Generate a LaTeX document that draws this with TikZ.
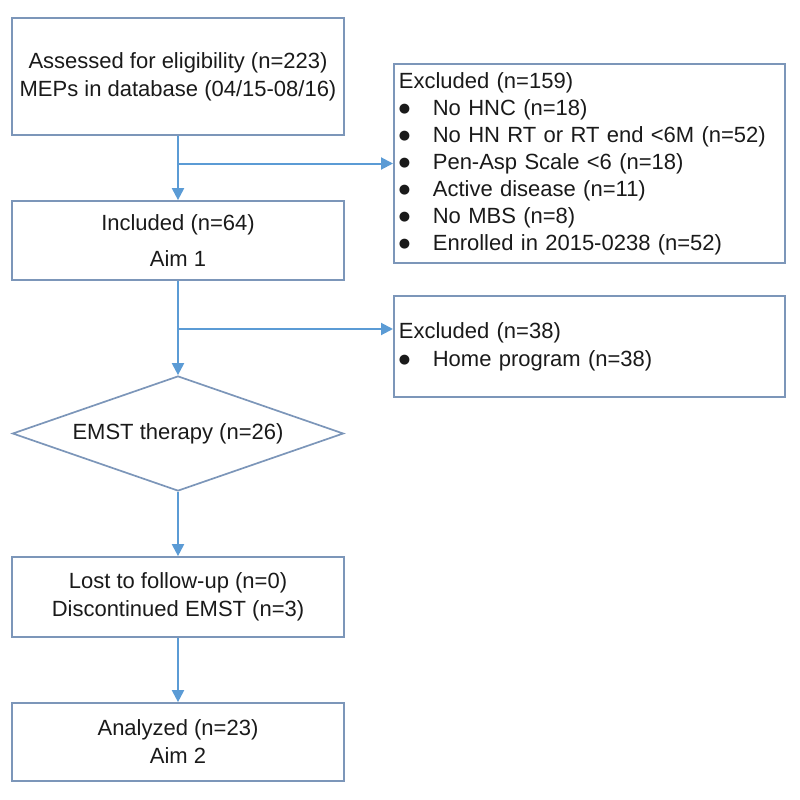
\documentclass[tikz,border=0pt]{standalone}
\usepackage{fontspec}
\setmainfont{Liberation Sans}
\newfontfamily\dejavu{DejaVu Sans}
\usetikzlibrary{shapes.geometric,arrows.meta}
\definecolor{boxc}{HTML}{7C96B9}
\definecolor{linec}{HTML}{5B9BD5}
\definecolor{txt}{HTML}{1A1A1A}
\newcommand{\bul}{\makebox[34pt][l]{\raisebox{2.5pt}{\dejavu\fontsize{13}{13}\selectfont ●}}}
\begin{document}
\begin{tikzpicture}[x=1pt,y=-1pt,
  every node/.style={font=\fontsize{22}{28}\selectfont, text=txt},
  box/.style={draw=boxc, line width=1.7pt, rectangle, inner sep=0pt, align=center},
  exbox/.style={draw=boxc, line width=1.7pt, rectangle, inner xsep=5pt, inner ysep=0pt, align=left, anchor=west},
  dia/.style={draw=boxc, line width=1.7pt, diamond, inner sep=0pt, aspect=2.88, minimum width=331pt, minimum height=115pt},
  conn/.style={draw=linec, line width=2pt},
  arr/.style={conn, -{Triangle[length=12pt,width=12pt]}}
]
\useasboundingbox (0,0) rectangle (800,800);
\node[box, minimum width=332pt, minimum height=117pt] (b1) at (178,76.5)
  {Assessed for eligibility (n=223)\\MEPs in database (04/15-08/16)};
\node[box, minimum width=332pt, minimum height=79pt, font=\fontsize{22}{36}\selectfont] (inc) at (178,240.5)
  {Included (n=64)\\Aim 1};
\node[exbox, text width=381pt, minimum height=199pt, font=\fontsize{22}{27}\selectfont] (ex1) at (393,163.5)
  {Excluded (n=159)\\\bul No HNC (n=18)\\\bul No HN RT or RT end <6M (n=52)\\\bul Pen-Asp Scale <6 (n=18)\\\bul Active disease (n=11)\\\bul No MBS (n=8)\\\bul Enrolled in 2015-0238 (n=52)};
\node[exbox, text width=381pt, minimum height=101pt] (ex2) at (393,346.5)
  {Excluded (n=38)\\\bul Home program (n=38)};
\node[dia] (emst) at (178,433.5) {EMST therapy (n=26)};
\node[box, minimum width=332pt, minimum height=80pt] (lost) at (178,597)
  {Lost to follow-up (n=0)\\Discontinued EMST (n=3)};
\node[box, minimum width=332pt, minimum height=78pt] (ana) at (178,742)
  {Analyzed (n=23)\\Aim 2};
\coordinate (j1) at (b1.south |- ex1.west);
\coordinate (j2) at (178,329);
\draw[arr] (b1.south) -- (inc.north);
\draw[arr] (j1) -- (ex1.west);
\draw[arr] (inc.south) -- (emst.north);
\draw[arr] (j2) -- (j2 -| ex2.west);
\draw[arr] (emst.south) -- (lost.north);
\draw[arr] (lost.south) -- (ana.north);
\end{tikzpicture}
\end{document}
